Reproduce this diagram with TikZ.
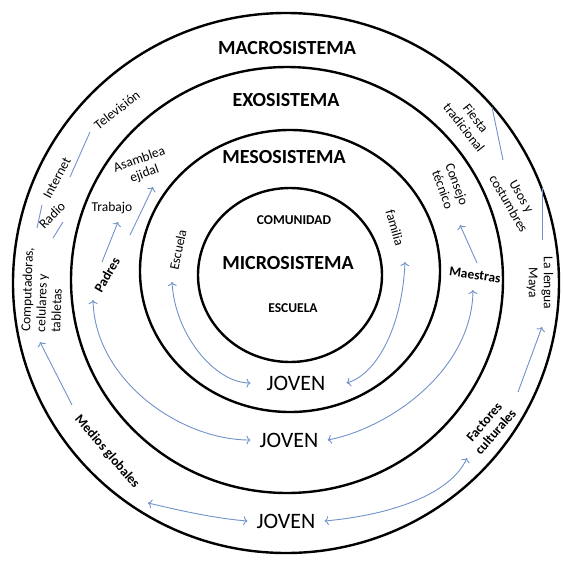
\documentclass[tikz,border=0pt]{standalone}
\usepackage{fontspec}
\setmainfont{Carlito}
\usetikzlibrary{arrows.meta}
\definecolor{linkblue}{RGB}{112,146,200}
\tikzset{
  ring/.style={line width=2.4pt},
  link/.style={linkblue, line width=0.9pt},
  sysname/.style={font=\fontsize{20}{22}\selectfont\bfseries},
  placename/.style={font=\fontsize{13.5}{15}\selectfont\bfseries},
  factor/.style={font=\fontsize{13.5}{15}\selectfont, align=center, inner sep=0.5pt},
  keyfactor/.style={factor, font=\fontsize{13.5}{15}\selectfont\bfseries},
  youth/.style={font=\fontsize{22}{24}\selectfont, inner xsep=9pt},
  >={To[length=4pt,width=9pt]}
}
\begin{document}
\begin{tikzpicture}[x=1pt, y=-1pt]
    \useasboundingbox (0,0) rectangle (563,563);

    % Rings
    \draw[ring] (286,283) ellipse [x radius=273, y radius=270];
    \draw[ring] (287,280) ellipse [x radius=216, y radius=213];
    \draw[ring] (290,271) ellipse [x radius=150, y radius=141];
    \draw[ring] (290,275) ellipse [x radius=92, y radius=87];

    % System names
    \node[sysname] (macro) at (287,48) {MACROSISTEMA};
    \node[sysname] (exo) at (286,100) {EXOSISTEMA};
    \node[sysname] (meso) at (284,157) {MESOSISTEMA};
    \node[sysname] (micro) at (288,263) {MICROSISTEMA};
    \node[placename] (comunidad) at (294,220) {COMUNIDAD};
    \node[placename] (escuela) at (293,308) {ESCUELA};

    % Youth
    \node[youth] (joven1) at (296,383) {JOVEN};
    \node[youth] (joven2) at (289,440) {JOVEN};
    \node[youth] (joven3) at (286,521) {JOVEN};

    % Factors, macro ring
    \node[factor, rotate=38] (tele) at (117,110) {Televisión};
    \node[factor, rotate=62] (internet) at (57,178) {Internet};
    \node[factor, rotate=45] (radio) at (52,215) {Radio};
    \node[factor, rotate=88, align=left] (compu) at (42,290) {Computadoras,\\celulares y\\tabletas};
    \node[keyfactor, rotate=-49] (medios) at (107,452) {Medios globales};
    \node[keyfactor, rotate=49] (factores) at (490,427) {Factores\\culturales};
    \node[factor, rotate=-90] (lengua) at (540,283) {La lengua\\Maya};
    \node[factor, rotate=-60] (usos) at (515,200) {Usos y\\costumbres};
    \node[factor, rotate=-52] (fiesta) at (470,123) {Fiesta\\tradicional};

    % Factors, exo and meso rings
    \node[keyfactor, rotate=60] (padres) at (107,275) {Padres};
    \node[factor] (trabajo) at (112,208) {Trabajo};
    \node[factor, rotate=20] (asamblea) at (142,167) {Asamblea\\ejidal};
    \node[keyfactor, rotate=-8] (maestras) at (475,275) {Maestras};
    \node[factor, rotate=-70] (consejo) at (450,187) {Consejo\\técnico};
    \node[factor, rotate=78] (escuelaLbl) at (178,250) {Escuela};
    \node[factor, rotate=-74] (familia) at (395,228) {familia};

    % Link ends
    \coordinate (tv1) at (90,132);   \coordinate (tv2) at (70,177);
    \coordinate (rd1) at (42,205);   \coordinate (rd2) at (37,228);
    \coordinate (rd3) at (63,222);   \coordinate (rd4) at (53,238);
    \coordinate (pd1) at (102,262);  \coordinate (tr1) at (118,222);
    \coordinate (as1) at (130,235);  \coordinate (as2) at (153,187);
    \coordinate (ct1) at (477,263);  \coordinate (ct2) at (460,225);
    \coordinate (fi1) at (492,107);  \coordinate (fi2) at (503,160);
    \coordinate (us1) at (542,188);  \coordinate (us2) at (542,240);
    \coordinate (mg1) at (72,405);   \coordinate (mg2) at (40,342);
    \coordinate (fc1) at (518,392);  \coordinate (fc2) at (542,327);
    \coordinate (esc) at (172,282);  \coordinate (fam) at (405,262);
    \coordinate (pad) at (93,300);   \coordinate (mae) at (473,290);
    \coordinate (med) at (148,503);  \coordinate (fac) at (467,458);

    % Straight links
    \draw[link] (tv1) -- (tv2);
    \draw[link] (rd1) -- (rd2);
    \draw[link] (rd3) -- (rd4);
    \draw[link] (fi1) -- (fi2);
    \draw[link] (us1) -- (us2);
    \draw[link, ->] (pd1) -- (tr1);
    \draw[link, ->] (as1) -- (as2);
    \draw[link, ->] (ct1) -- (ct2);
    \draw[link, ->] (mg1) -- (mg2);
    \draw[link, ->] (fc1) -- (fc2);

    % Curved links to the youth
    \draw[link, <->] (esc) .. controls (175,335) and (215,383) .. ([xshift=-7pt]joven1.west);
    \draw[link, <->] (fam) .. controls (402,330) and (375,375) .. ([xshift=12pt]joven1.east);
    \draw[link, <->] (pad) .. controls (95,380) and (180,440) .. (joven2.west);
    \draw[link, <->] (mae) .. controls (472,370) and (390,428) .. (joven2.east);
    \draw[link, <->] (med) .. controls (170,508) and (210,518) .. (joven3.west);
    \draw[link, <->] (joven3.east) .. controls (390,515) and (450,495) .. (fac);
\end{tikzpicture}
\end{document}
